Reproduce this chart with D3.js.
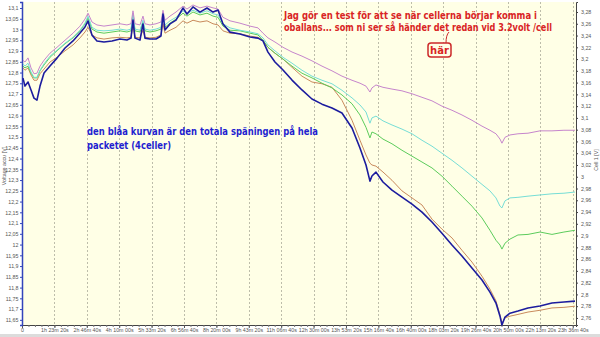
<!DOCTYPE html>
<html>
<head>
<meta charset="utf-8">
<script src="https://cdn.jsdelivr.net/npm/d3@7"></script>
<style>
  html, body { margin: 0; padding: 0; background: #fff; }
  svg { display: block; }
  .tick-label { font-family: "Liberation Sans", Arial, sans-serif; font-size: 5.3px; fill: #555; }
  .note { font-family: "DejaVu Sans", sans-serif; font-weight: bold; font-size: 10px; }
</style>
</head>
<body>
<div id="chart"></div>
<script>
// time in seconds since start of logging
const timeSec = [150,460,930,1390,1850,2310,2780,3400,4320,5400,6640,7870,8950,9720,10190,10800,11570,12650,13890,15120,
  16200,16820,17130,17440,18210,18670,18980,19750,20680,21450,21760,22070,22840,23770,24850,25460,26390,27470,28550,29480,
  30250,31020,32100,33640,35190,36420,37190,37960,39040,40280,41670,43210,44750,46300,47840,49380,50930,52160,53090,53700,
  54010,54630,55710,57100,58640,60190,61730,63270,64810,66360,67900,69440,70990,72220,73150,73770,74070,74540,75310,76540,
  78090,79940,81790,83640,85340];

// whole pack (left axis)
const packV = [12.774,12.737,12.756,12.719,12.681,12.672,12.737,12.798,12.830,12.867,
  12.914,12.947,12.984,13.012,13.040,12.974,12.947,12.942,12.947,12.956,
  12.951,12.960,13.044,12.960,12.951,13.026,12.960,12.956,12.956,12.970,
  13.072,12.998,13.026,13.044,13.100,13.072,13.105,13.081,13.100,13.081,
  13.091,13.026,12.988,12.979,12.965,12.960,12.947,12.895,12.849,12.812,
  12.765,12.719,12.677,12.653,12.635,12.612,12.542,12.449,12.370,12.295,
  12.319,12.337,12.291,12.253,12.221,12.188,12.151,12.105,12.053,11.998,
  11.947,11.891,11.835,11.779,11.728,11.667,11.626,11.663,11.681,11.691,
  11.705,11.714,11.728,11.733,11.737];

// cells (right axis)
const cellPink = [3.198,3.195,3.202,3.185,3.175,3.176,3.188,3.198,3.210,3.220,
  3.232,3.244,3.256,3.268,3.278,3.263,3.258,3.256,3.258,3.260,
  3.258,3.260,3.282,3.260,3.258,3.273,3.260,3.258,3.260,3.263,
  3.283,3.266,3.273,3.280,3.290,3.285,3.292,3.287,3.290,3.287,
  3.285,3.271,3.265,3.261,3.256,3.253,3.244,3.236,3.229,3.220,
  3.212,3.205,3.197,3.188,3.180,3.171,3.164,3.159,3.154,3.144,
  3.151,3.156,3.152,3.149,3.146,3.141,3.135,3.129,3.120,3.113,
  3.105,3.096,3.086,3.079,3.073,3.064,3.057,3.067,3.071,3.073,
  3.074,3.078,3.078,3.079,3.079];

const cellCyan = [3.192,3.188,3.193,3.178,3.169,3.169,3.181,3.192,3.205,3.215,
  3.227,3.237,3.249,3.261,3.273,3.254,3.249,3.248,3.249,3.251,
  3.249,3.251,3.278,3.251,3.249,3.266,3.251,3.249,3.251,3.254,
  3.280,3.258,3.265,3.271,3.282,3.277,3.283,3.278,3.282,3.277,
  3.275,3.260,3.253,3.249,3.246,3.243,3.236,3.224,3.214,3.203,
  3.193,3.181,3.171,3.164,3.158,3.147,3.134,3.122,3.110,3.091,
  3.100,3.103,3.095,3.088,3.081,3.073,3.062,3.052,3.040,3.028,
  3.015,3.001,2.987,2.976,2.964,2.950,2.947,2.959,2.964,2.965,
  2.967,2.969,2.971,2.972,2.974];

const cellGreen = [3.188,3.185,3.188,3.176,3.168,3.168,3.180,3.190,3.203,3.214,
  3.226,3.236,3.248,3.260,3.270,3.251,3.246,3.244,3.246,3.248,
  3.246,3.248,3.275,3.248,3.246,3.263,3.248,3.246,3.248,3.251,
  3.277,3.254,3.261,3.268,3.278,3.273,3.280,3.275,3.278,3.273,
  3.271,3.256,3.249,3.248,3.244,3.241,3.232,3.220,3.210,3.200,
  3.188,3.176,3.168,3.159,3.151,3.139,3.124,3.105,3.084,3.066,
  3.076,3.073,3.064,3.056,3.045,3.035,3.025,3.015,3.001,2.984,
  2.967,2.950,2.930,2.909,2.892,2.884,2.877,2.887,2.894,2.901,
  2.902,2.906,2.902,2.906,2.909];

const cellOrange = [3.185,3.181,3.185,3.173,3.164,3.164,3.175,3.183,3.195,3.203,
  3.214,3.224,3.236,3.246,3.254,3.241,3.236,3.234,3.236,3.237,
  3.236,3.237,3.256,3.237,3.236,3.249,3.237,3.236,3.237,3.241,
  3.260,3.244,3.249,3.254,3.265,3.261,3.266,3.263,3.265,3.260,
  3.258,3.248,3.244,3.243,3.239,3.237,3.232,3.220,3.210,3.200,
  3.186,3.171,3.161,3.158,3.152,3.130,3.096,3.062,3.037,3.023,
  3.020,3.018,3.008,2.994,2.976,2.964,2.952,2.928,2.911,2.896,
  2.875,2.855,2.831,2.809,2.789,2.765,2.751,2.760,2.763,2.766,
  2.770,2.773,2.777,2.778,2.780];

const timeTicks = d3.range(0, 18).map(i => i * 5000);
const leftTicks = d3.range(233, 263).map(i => +(i * 0.05).toFixed(2));
const rightTicks = d3.range(138, 165).map(i => +(i * 0.02).toFixed(2));

const redNote = ["Jag gör en test för att se när cellerna börjar komma i",
                 "oballans... som ni ser så händer det redan vid 3.2volt /cell"];
const blueNote = ["den blåa kurvan är den totala späningen på hela",
                  "packetet (4celler)"];

const width = 600, height = 337;
const plot = {left: 22, right: 576, top: 2, bottom: 325};

const x = d3.scaleLinear().domain([0, 85500]).range([plot.left, plot.right]);
const yL = d3.scaleLinear().domain([11.626, 13.128]).range([plot.bottom, plot.top]);
const yR = d3.scaleLinear().domain([2.748, 3.297]).range([plot.bottom, plot.top]);

const comma = v => String(+v.toFixed(2)).replace('.', ',');
const pad = n => String(n).padStart(2, '0');
const fmtTime = s => s === 0 ? "0" :
  `${Math.floor(s / 3600)}h ${pad(Math.floor(s % 3600 / 60))}m ${pad(s % 60)}s`;

const svg = d3.select('#chart').append('svg')
  .attr('width', width).attr('height', height);

svg.append('rect').attr('width', width).attr('height', height).attr('fill', '#fff');
svg.append('rect').attr('x', 0).attr('y', 334).attr('width', width).attr('height', 3).attr('fill', '#dcdcdc');

svg.append('rect')
  .attr('x', plot.left).attr('y', plot.top)
  .attr('width', plot.right - plot.left).attr('height', plot.bottom - plot.top)
  .attr('fill', '#ffffe6');

// vertical grid
svg.append('g').selectAll('line')
  .data(timeTicks.filter(d => d > 0))
  .join('line')
  .attr('x1', d => Math.round(x(d)) + 0.5).attr('x2', d => Math.round(x(d)) + 0.5)
  .attr('y1', plot.top).attr('y2', plot.bottom)
  .attr('stroke', '#bdbdaa').attr('stroke-width', 1).attr('stroke-dasharray', '2,2');

// bottom axis
const xAxis = svg.append('g').attr('transform', `translate(0,${plot.bottom})`);
xAxis.call(d3.axisBottom(x).tickValues(d3.range(0, 86000, 1000)).tickSize(2).tickFormat(''))
  .call(g => g.select('.domain').attr('stroke', '#444'))
  .call(g => g.selectAll('.tick line').attr('stroke', '#777'));
xAxis.append('g').call(d3.axisBottom(x).tickValues(timeTicks).tickSize(3).tickFormat(fmtTime))
  .call(g => g.select('.domain').remove())
  .call(g => g.selectAll('.tick line').attr('stroke', '#555'))
  .call(g => g.selectAll('text').attr('class', 'tick-label').attr('dy', '0.3em').attr('y', 5.5));

// left axis
svg.append('g').attr('transform', `translate(${plot.left},0)`)
  .call(d3.axisLeft(yL).tickValues(leftTicks).tickSize(2).tickFormat(comma))
  .call(g => g.select('.domain').attr('stroke', '#3344bb').attr('stroke-width', 1.5))
  .call(g => g.selectAll('.tick line').attr('stroke', '#3344bb'))
  .call(g => g.selectAll('text').attr('class', 'tick-label').attr('x', -3.5));

// right axis
svg.append('g').attr('transform', `translate(${plot.right},0)`)
  .call(d3.axisRight(yR).tickValues(rightTicks).tickSize(2).tickFormat(comma))
  .call(g => g.select('.domain').attr('stroke', '#444'))
  .call(g => g.selectAll('.tick line').attr('stroke', '#444'))
  .call(g => g.selectAll('text').attr('class', 'tick-label').attr('x', 5));

svg.append('text').attr('class', 'tick-label')
  .attr('transform', 'translate(5.5,166) rotate(-90)')
  .attr('text-anchor', 'middle').text('Voltage accu [V]');
svg.append('text').attr('class', 'tick-label')
  .attr('transform', 'translate(597.5,160) rotate(-90)')
  .attr('text-anchor', 'middle').text('Cell 1 [V]');

// lines
const series = [
  {vals: cellOrange, y: yR, color: '#c98a5c', w: 1},
  {vals: cellGreen, y: yR, color: '#5ccc5c', w: 1},
  {vals: cellCyan, y: yR, color: '#76ded6', w: 1},
  {vals: cellPink, y: yR, color: '#c685cc', w: 1},
  {vals: packV, y: yL, color: '#1c1c9e', w: 1.6}
];

svg.append('g').selectAll('path')
  .data(series)
  .join('path')
  .attr('fill', 'none')
  .attr('stroke', d => d.color)
  .attr('stroke-width', d => d.w)
  .attr('stroke-linejoin', 'round')
  .attr('d', s => d3.line().x((v, i) => x(timeSec[i])).y(v => s.y(v))(s.vals));

// annotations
const notes = svg.append('g');
notes.selectAll('text.red')
  .data(redNote)
  .join('text')
  .attr('class', 'note red')
  .attr('x', 284).attr('y', (d, i) => 19 + i * 12)
  .attr('fill', '#d92424')
  .attr('textLength', (d, i) => i === 0 ? 253 : 268)
  .attr('lengthAdjust', 'spacingAndGlyphs')
  .text(d => d);

notes.append('path')
  .attr('d', 'M446,43 Q446,35 449,32')
  .attr('fill', 'none').attr('stroke', '#cc2a2a').attr('stroke-width', 1);
notes.append('rect')
  .attr('x', 428).attr('y', 43).attr('width', 23).attr('height', 14).attr('rx', 3)
  .attr('fill', '#ffffe6').attr('stroke', '#cc2a2a').attr('stroke-width', 1.5);
notes.append('text').attr('class', 'note')
  .attr('x', 439.5).attr('y', 54).attr('text-anchor', 'middle')
  .attr('fill', '#d92424').text('här');

notes.selectAll('text.blue')
  .data(blueNote)
  .join('text')
  .attr('class', 'note blue')
  .attr('x', 87).attr('y', (d, i) => 135 + i * 14)
  .attr('fill', '#1f1fd0')
  .attr('textLength', (d, i) => i === 0 ? 231 : 84)
  .attr('lengthAdjust', 'spacingAndGlyphs')
  .text(d => d);
</script>
</body>
</html>
